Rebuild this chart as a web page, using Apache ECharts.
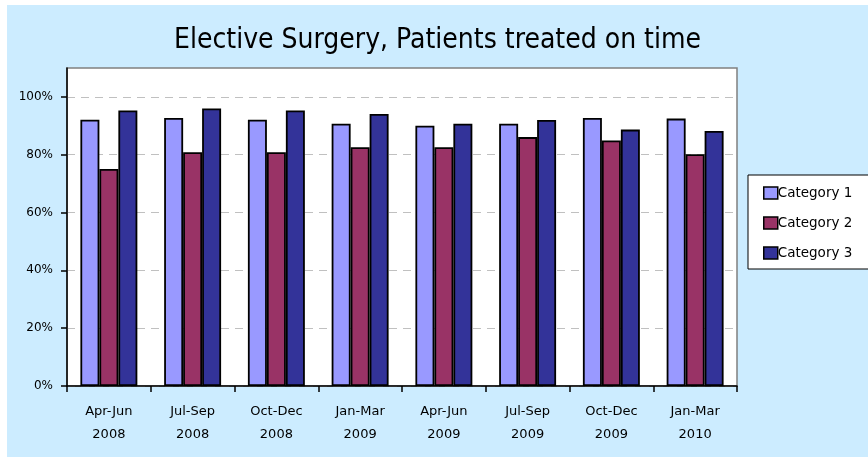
<!DOCTYPE html>
<html>
<head>
<meta charset="utf-8">
<script src="https://cdn.jsdelivr.net/npm/echarts@6/dist/echarts.min.js"></script>
<style>
    html, body { margin: 0; padding: 0; background: #fff; }
    #chart { position: absolute; left: 7px; top: 5px; width: 861px; height: 452px; background: #CCECFF; }
</style>
</head>
<body>
<div id="chart"></div>
<script>
// 数据
var quarters = ['Apr-Jun\n2008', 'Jul-Sep\n2008', 'Oct-Dec\n2008', 'Jan-Mar\n2009', 'Apr-Jun\n2009', 'Jul-Sep\n2009', 'Oct-Dec\n2009', 'Jan-Mar\n2010'];
var category1 = [92.1, 92.7, 92.1, 90.7, 90.0, 90.7, 92.7, 92.5];
var category2 = [75.1, 80.9, 80.9, 82.6, 82.6, 86.1, 84.9, 80.2];
var category3 = [95.3, 96.0, 95.3, 94.1, 90.7, 92.0, 88.7, 88.2];
var yTicks = [0, 20, 40, 60, 80, 100];

var myChart = echarts.init(document.getElementById('chart'));

function barSeries(name, data, color) {
    return {
        name: name,
        type: 'bar',
        data: data,
        barGap: '0%',
        barCategoryGap: '32%',
        itemStyle: { color: color, borderColor: '#000', borderWidth: 1.8 },
        emphasis: { disabled: true }
    };
}

var option = {
    animation: false,
    textStyle: { fontFamily: 'DejaVu Sans', color: '#000' },
    title: {
        text: 'Elective Surgery, Patients treated on time',
        left: 'center',
        top: 17,
        textStyle: { fontFamily: 'DejaVu Sans Condensed', fontSize: 28, fontWeight: 'normal', color: '#000' }
    },
    legend: {
        orient: 'vertical',
        left: 741,
        top: 170,
        icon: 'rect',
        itemWidth: 14,
        itemHeight: 12,
        itemGap: 16,
        padding: [11, 40, 9, 15],
        backgroundColor: '#fff',
        borderColor: '#000',
        borderWidth: 1,
        textStyle: { fontSize: 13.5, color: '#000', padding: [0, 0, 0, -5] },
        itemStyle: { borderColor: '#000', borderWidth: 1.5 },
        data: ['Category 1', 'Category 2', 'Category 3']
    },
    grid: {
        left: 60,
        top: 63,
        right: 131,
        bottom: 71,
        show: true,
        backgroundColor: '#fff',
        borderColor: '#808080',
        borderWidth: 1.5
    },
    xAxis: {
        type: 'category',
        data: quarters,
        boundaryGap: true,
        axisLine: { lineStyle: { color: '#000', width: 1.5 } },
        axisTick: { show: true, length: 6, lineStyle: { color: '#000', width: 1.5 } },
        axisLabel: { fontSize: 13, color: '#000', lineHeight: 23, margin: 14, interval: 0 }
    },
    yAxis: {
        type: 'value',
        min: 0,
        max: 110,
        interval: 10,
        axisLine: { show: true, lineStyle: { color: '#000', width: 1.5 } },
        axisTick: { show: true, length: 6, customValues: yTicks, lineStyle: { color: '#000', width: 1.5 } },
        axisLabel: { fontSize: 12, color: '#000', margin: 14, formatter: '{value}%', customValues: yTicks },
        splitLine: { show: true, lineStyle: { color: '#c0c0c0', type: [8, 6] } }
    },
    series: [
        barSeries('Category 1', category1, '#9999FF'),
        barSeries('Category 2', category2, '#993366'),
        barSeries('Category 3', category3, '#333399')
    ]
};
myChart.setOption(option);
</script>
</body>
</html>
